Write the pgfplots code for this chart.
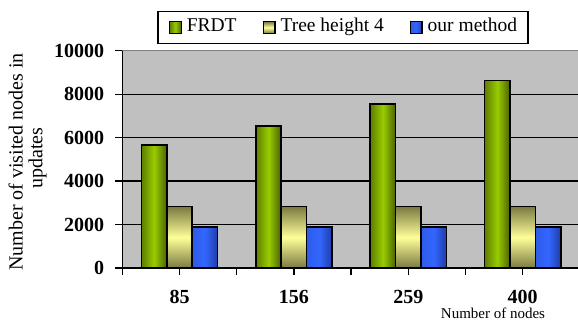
\documentclass[border=0pt]{standalone}
\usepackage{fontspec}
\setmainfont{Liberation Serif}
\usepackage{pgfplots}
\pgfplotsset{compat=1.18}

\definecolor{plotbg}{HTML}{C0C0C0}
\definecolor{framegray}{HTML}{808080}
\definecolor{frdtleft}{HTML}{5E7D00}
\definecolor{frdtright}{HTML}{4A6200}
\definecolor{frdtmid}{HTML}{99CC00}
\definecolor{treedark}{HTML}{7A7A42}
\definecolor{treemid}{HTML}{FFFF99}
\definecolor{ourleft}{HTML}{2E5CE6}
\definecolor{ourmid}{HTML}{3366FF}
\definecolor{ourright}{HTML}{1F3DA8}

% one \addplot per bar, so that each bar carries its own shading
\pgfplotsset{
  sq legend/.style={legend image code/.code={%
    \draw[##1, line width=1.3pt] (0pt,-5.8pt) rectangle (11.6pt,5.8pt);}},
  frdt/.style={draw=black, line width=1.5pt, bar shift=-0.222,
    left color=frdtleft, right color=frdtright, middle color=frdtmid, sq legend},
  tree/.style={draw=black, line width=1.5pt, bar shift=0,
    top color=treedark, bottom color=treedark, middle color=treemid, sq legend},
  ours/.style={draw=black, line width=1.5pt, bar shift=0.222,
    left color=ourleft, right color=ourright, middle color=ourmid, sq legend},
}

\begin{document}
\begin{tikzpicture}
\useasboundingbox (0pt,0pt) rectangle (578pt,322pt);
\clip (0pt,0pt) rectangle (578pt,322pt);
\begin{axis}[
  at={(122.3pt,54pt)}, anchor=south west,
  scale only axis, width=457.6pt, height=217.3pt,
  ybar, bar width=0.222,
  xmin=-0.5, xmax=3.5, ymin=0, ymax=10000,
  xtick={0,1,2,3}, xticklabels={85,156,259,400},
  minor xtick={-0.5,0.5,1.5,2.5,3.5},
  ytick={0,2000,...,10000},
  scaled y ticks=false,
  /pgf/number format/1000 sep={},
  /pgf/number format/assume math mode=true,
  axis x line*=bottom, axis y line*=left,
  axis line style={line width=1.5pt, -, black},
  tick align=outside, major tick length=7pt, minor tick length=7pt,
  tick style={line width=1.3pt, black},
  ymajorgrids, grid style={line width=1.3pt, black},
  axis background/.style={fill=plotbg},
  ticklabel style={font=\fontsize{20}{24}\selectfont\bfseries, inner sep=0pt},
  yticklabel style={anchor=east, xshift=-11pt},
  xticklabel style={anchor=north, yshift=-15pt},
  legend style={at={(0.4823,1.1068)}, anchor=center,
    legend columns=-1, draw=black, line width=1.8pt, fill=white,
    inner xsep=11pt, inner ysep=7pt,
    nodes={inner sep=0pt, text height=13.5pt, text depth=4.5pt,
      font=\fontsize{19.5}{23}\selectfont},
    /tikz/every odd column/.append style={column sep=5pt},
    /tikz/every even column/.append style={column sep=26pt}},
]
% FRDT
\addplot[frdt] coordinates {(0,5660)};
\addplot[frdt, forget plot] coordinates {(1,6530)};
\addplot[frdt, forget plot] coordinates {(2,7550)};
\addplot[frdt, forget plot] coordinates {(3,8620)};
% Tree height 4
\addplot[tree] coordinates {(0,2820)};
\addplot[tree, forget plot] coordinates {(1,2820)};
\addplot[tree, forget plot] coordinates {(2,2820)};
\addplot[tree, forget plot] coordinates {(3,2820)};
% our method
\addplot[ours] coordinates {(0,1890)};
\addplot[ours, forget plot] coordinates {(1,1890)};
\addplot[ours, forget plot] coordinates {(2,1890)};
\addplot[ours, forget plot] coordinates {(3,1890)};
\legend{FRDT, Tree height 4, our method}
% grey frame along the top of the plot area
\draw[line width=1.5pt, framegray] (rel axis cs:0,1) -- (rel axis cs:1,1);
\end{axis}
\node[rotate=90, anchor=base, font=\fontsize{20}{24}\selectfont]
  at (22.7pt,160pt) {Number of visited nodes in};
\node[rotate=90, anchor=base, font=\fontsize{20}{24}\selectfont]
  at (42.3pt,164pt) {updates};
\node[anchor=base, font=\fontsize{15}{18}\selectfont]
  at (493pt,3.7pt) {Number of nodes};
\end{tikzpicture}
\end{document}
